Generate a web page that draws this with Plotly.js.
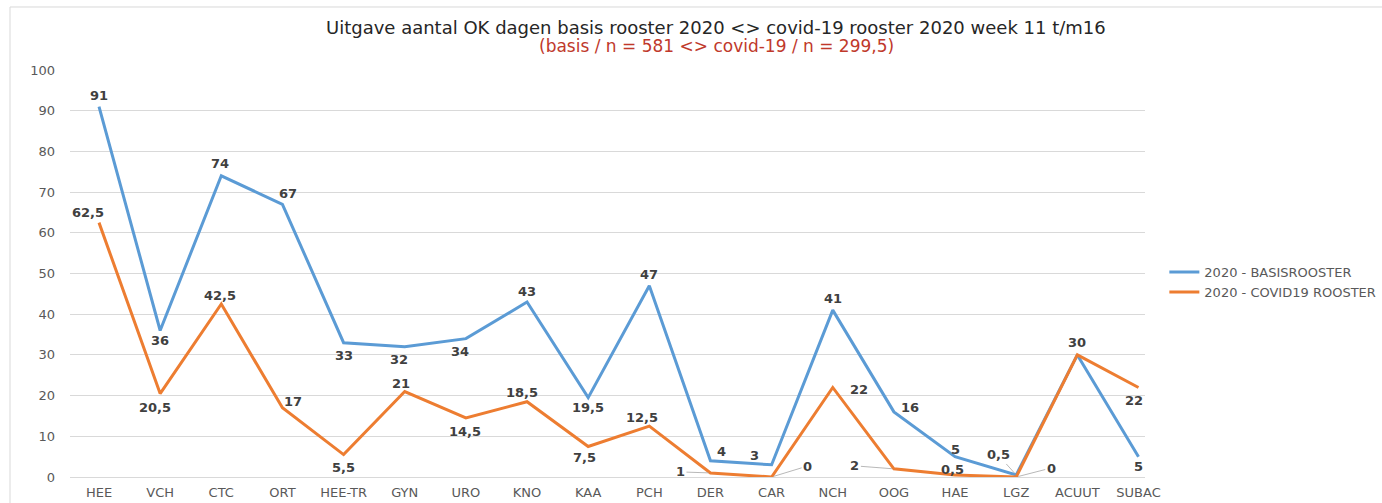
<!DOCTYPE html>
<html>
<head>
<meta charset="utf-8">
<script src="https://cdn.plot.ly/plotly-3.0.1.min.js"></script>
<style>html,body{margin:0;padding:0;background:#fff;}#chart{width:1382px;height:503px;}</style>
</head>
<body>
<div id="chart"></div>
<script>
// ---- data ----
const categories = ["HEE","VCH","CTC","ORT","HEE-TR","GYN","URO","KNO","KAA","PCH","DER","CAR","NCH","OOG","HAE","LGZ","ACUUT","SUBAC"];
const basisValues = [91,36,74,67,33,32,34,43,19.5,47,4,3,41,16,5,0.5,30,5];
const covidValues = [62.5,20.5,42.5,17,5.5,21,14.5,18.5,7.5,12.5,1,0,22,2,0.5,0,30,22];
const seriesNames = ["2020 - BASISROOSTER","2020 - COVID19 ROOSTER"];
const yTicks = [0,10,20,30,40,50,60,70,80,90,100];
const titleText = "Uitgave aantal OK dagen basis rooster 2020 &lt;&gt; covid-19 rooster 2020 week 11 t/m16";
const subtitleText = "(basis / n = 581 &lt;&gt; covid-19 / n = 299,5)";

// ---- label placement (pixel offsets, dx right, dy up; third item 1 = leader line) ----
const basisLabelPos = [[0,11],[0,-10],[-1,12],[6,11],[0,-13],[-6,-13],[-6,-13],[0,10],[0,-10],[0,11],[11,9],[-17,9],[0,12],[16,4],[0,7],[-18,20,1],[0,12],[0,-10]];
const covidLabelPos = [[-11,10],[-5,-14],[-1,9],[11,6],[0,-13],[-4,8],[-1,-14],[-5,9],[-4,-11],[-7,9],[-30,1,1],[36,11,1],[26,-2],[-39,3,1],[-3,5],[35,9,1],null,[-5,-13]];

const fmt = v => String(v).replace('.', ',');

function labels(vals, pos) {
  const out = [];
  vals.forEach((v, i) => {
    const p = pos[i];
    if (!p) return;
    const base = {
      x: categories[i], y: v, xref: 'x', yref: 'y', text: fmt(v),
      font: {family: 'DejaVu Sans', size: 13, color: '#404040', weight: 'bold'}
    };
    if (p[2]) {
      Object.assign(base, {showarrow: true, arrowhead: 0, arrowwidth: 0.8, arrowcolor: '#a6a6a6', ax: p[0], ay: -p[1], standoff: 2});
    } else {
      Object.assign(base, {showarrow: false, xshift: p[0], yshift: p[1]});
    }
    out.push(base);
  });
  return out;
}

const traces = [
  {x: categories, y: basisValues, name: seriesNames[0], type: 'scatter', mode: 'lines',
   line: {color: '#5b9bd5', width: 3}},
  {x: categories, y: covidValues, name: seriesNames[1], type: 'scatter', mode: 'lines',
   line: {color: '#ed7d31', width: 3}}
];

const layout = {
  width: 1382, height: 503,
  margin: {l: 70, r: 237, t: 70, b: 26, autoexpand: false},
  paper_bgcolor: '#ffffff', plot_bgcolor: '#ffffff',
  font: {family: 'DejaVu Sans', color: '#595959'},
  title: {
    text: titleText,
    font: {family: 'DejaVu Sans', size: 18, color: '#262626'},
    x: 0.518, xanchor: 'center', xref: 'container',
    y: 0.944, yanchor: 'middle', yref: 'container'
  },
  xaxis: {
    type: 'category', showgrid: false, zeroline: false, showline: false,
    tickfont: {family: 'DejaVu Sans', size: 13, color: '#595959'},
    ticks: '', ticklabelstandoff: 6
  },
  yaxis: {
    range: [0, 100], tickvals: yTicks, showgrid: true, gridcolor: '#d9d9d9', gridwidth: 1,
    zeroline: true, zerolinecolor: '#d9d9d9', zerolinewidth: 1, showline: false, ticks: '',
    tickfont: {family: 'DejaVu Sans', size: 13, color: '#595959'},
    ticklabelstandoff: 14
  },
  legend: {
    x: 1.018, xanchor: 'left', y: 0.479, yanchor: 'middle',
    font: {family: 'DejaVu Sans', size: 13, color: '#595959'},
    bgcolor: 'rgba(0,0,0,0)', itemwidth: 30
  },
  shapes: [
    {type: 'rect', xref: 'paper', yref: 'paper', x0: -0.0558, x1: 1.225, y0: -0.08, y1: 1.1548,
     line: {color: '#d9d9d9', width: 1}, fillcolor: 'rgba(0,0,0,0)', layer: 'below'}
  ],
  annotations: [
    {text: subtitleText, xref: 'paper', yref: 'paper', x: 0.601, y: 1.059, xanchor: 'center', yanchor: 'middle',
     showarrow: false, font: {family: 'DejaVu Sans', size: 17, color: '#c0392b'}}
  ].concat(labels(basisValues, basisLabelPos), labels(covidValues, covidLabelPos))
};

Plotly.newPlot('chart', traces, layout, {displayModeBar: false, staticPlot: true});
</script>
</body>
</html>
